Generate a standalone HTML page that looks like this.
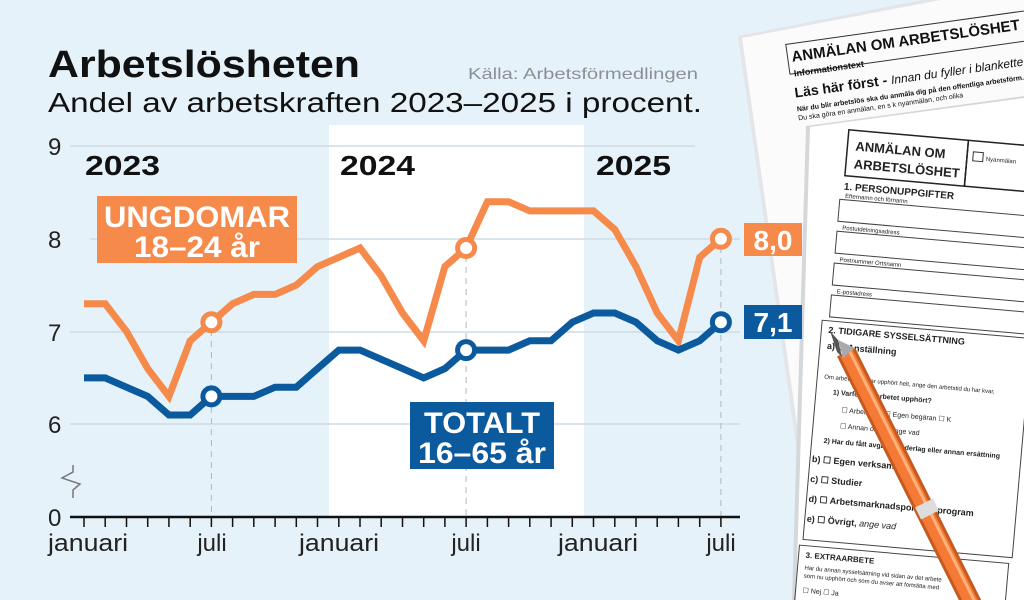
<!DOCTYPE html>
<html><head><meta charset="utf-8"><style>
html,body{margin:0;padding:0;width:1024px;height:600px;overflow:hidden;background:#e6f2f9}
svg{display:block}
text{font-family:"Liberation Sans",sans-serif}
</style></head><body>
<svg width="1024" height="600" viewBox="0 0 1024 600" xmlns="http://www.w3.org/2000/svg">
<rect width="1024" height="600" fill="#e6f2f9"/>
<rect x="329" y="125" width="255" height="392" fill="#ffffff"/>
<g stroke="#cfdbe3" stroke-width="1.5">
<line x1="70" y1="146" x2="695" y2="146"/>
<line x1="90" y1="239" x2="740" y2="239"/>
<line x1="70" y1="332" x2="740" y2="332"/>
<line x1="70" y1="424" x2="740" y2="424"/>
</g>
<g stroke="#b0b8bf" stroke-width="1" stroke-dasharray="6,5">
<line x1="211.4" y1="330" x2="211.4" y2="517"/>
<line x1="466.1" y1="256" x2="466.1" y2="517"/>
<line x1="720.9" y1="247" x2="720.9" y2="517"/>
</g>
<line x1="70" y1="517" x2="740" y2="517" stroke="#111" stroke-width="2.5"/>
<g stroke="#111" stroke-width="1.5">
<path d="M84 517v10M105.2 517v10M126.5 517v10M147.7 517v10M168.9 517v10M190.2 517v10M211.4 517v10M232.6 517v10M253.8 517v10M275.1 517v10M296.3 517v10M317.5 517v10M338.8 517v10M360 517v10M381.2 517v10M402.5 517v10M423.7 517v10M444.9 517v10M466.1 517v10M487.4 517v10M508.6 517v10M529.8 517v10M551.1 517v10M572.3 517v10M593.5 517v10M614.8 517v10M636 517v10M657.2 517v10M678.4 517v10M699.7 517v10M720.9 517v10"/>
</g>
<path d="M73 465 L73 472 L62 478 L80 484 L73 490 L73 498" fill="none" stroke="#777" stroke-width="1.5"/>
<g font-size="24" fill="#222">
<text x="48" y="155">9</text><text x="48" y="248">8</text><text x="48" y="341">7</text><text x="48" y="433">6</text><text x="48" y="526">0</text>
<text x="88" y="551" text-anchor="middle" textLength="80" lengthAdjust="spacingAndGlyphs">januari</text>
<text x="212" y="551" text-anchor="middle">juli</text>
<text x="339" y="551" text-anchor="middle" textLength="80" lengthAdjust="spacingAndGlyphs">januari</text>
<text x="466" y="551" text-anchor="middle">juli</text>
<text x="598" y="551" text-anchor="middle" textLength="80" lengthAdjust="spacingAndGlyphs">januari</text>
<text x="721" y="551" text-anchor="middle">juli</text>
</g>
<g font-size="28" font-weight="bold" fill="#111">
<text x="85" y="175" textLength="75" lengthAdjust="spacingAndGlyphs">2023</text><text x="340" y="175" textLength="75" lengthAdjust="spacingAndGlyphs">2024</text><text x="596" y="175" textLength="75" lengthAdjust="spacingAndGlyphs">2025</text>
</g>
<text x="48" y="77" font-size="38" font-weight="bold" fill="#111" textLength="312" lengthAdjust="spacingAndGlyphs">Arbetslösheten</text>
<text x="468" y="79" font-size="16" fill="#8a9095" textLength="230" lengthAdjust="spacingAndGlyphs">Källa: Arbetsförmedlingen</text>
<text x="48" y="112" font-size="28" fill="#111" textLength="654" lengthAdjust="spacingAndGlyphs">Andel av arbetskraften 2023–2025 i procent.</text>

<polyline fill="none" stroke="#f58a4b" stroke-width="7" points="84,303.7 105.2,303.7 126.5,331.5 147.7,368.6 168.9,396.4 190.2,340.8 211.4,322.2 232.6,303.7 253.8,294.4 275.1,294.4 296.3,285.1 317.5,266.6 338.8,257.3 360,248 381.2,275.9 402.5,313 423.7,340.8 444.9,266.6 466.1,248 487.4,201.7 508.6,201.7 529.8,210.9 551.1,210.9 572.3,210.9 593.5,210.9 614.8,229.5 636,266.6 657.2,313 678.4,340.8 699.7,257.3 720.9,238.8"/>
<polyline fill="none" stroke="#0b5a9e" stroke-width="7" points="84,377.9 105.2,377.9 126.5,387.2 147.7,396.4 168.9,415 190.2,415 211.4,396.4 232.6,396.4 253.8,396.4 275.1,387.2 296.3,387.2 317.5,368.6 338.8,350.1 360,350.1 381.2,359.3 402.5,368.6 423.7,377.9 444.9,368.6 466.1,350.1 487.4,350.1 508.6,350.1 529.8,340.8 551.1,340.8 572.3,322.2 593.5,313 614.8,313 636,322.2 657.2,340.8 678.4,350.1 699.7,340.8 720.9,322.2"/>
<g fill="#fff" stroke-width="5">
<circle cx="211.4" cy="322.2" r="8.5" stroke="#f58a4b"/>
<circle cx="466.1" cy="248" r="8.5" stroke="#f58a4b"/>
<circle cx="720.9" cy="238.8" r="8.5" stroke="#f58a4b"/>
<circle cx="211.4" cy="396.4" r="8.5" stroke="#0b5a9e"/>
<circle cx="466.1" cy="350.1" r="8.5" stroke="#0b5a9e"/>
<circle cx="720.9" cy="322.2" r="8.5" stroke="#0b5a9e"/>
</g>
<rect x="97" y="196" width="200" height="67" fill="#f58a4b"/>
<text x="197" y="227" font-size="30" font-weight="bold" fill="#fff" text-anchor="middle" textLength="186" lengthAdjust="spacingAndGlyphs">UNGDOMAR</text>
<text x="197" y="257" font-size="30" font-weight="bold" fill="#fff" text-anchor="middle" textLength="126" lengthAdjust="spacingAndGlyphs">18–24 år</text>
<rect x="410" y="402" width="144" height="67" fill="#0b5a9e"/>
<text x="482" y="433" font-size="30" font-weight="bold" fill="#fff" text-anchor="middle" textLength="116" lengthAdjust="spacingAndGlyphs">TOTALT</text>
<text x="482" y="463" font-size="30" font-weight="bold" fill="#fff" text-anchor="middle" textLength="128" lengthAdjust="spacingAndGlyphs">16–65 år</text>

<!-- papers -->
<polygon points="738,36 1024,-20 1024,600 818,600" fill="#e3e5e8"/>
<polygon points="742,38 1024,-16 1024,600 822,600" fill="#fbfbfb"/>
<g transform="rotate(-8 790 60)" fill="#111">
<rect x="788" y="44" width="260" height="30" fill="none" stroke="#333"/>
<text x="792" y="62" font-size="15" font-weight="bold">ANMÄLAN OM ARBETSLÖSHET</text>
<text x="792" y="77" font-size="9" font-weight="bold">Informationstext</text>
<text x="790" y="98" font-size="14" font-weight="bold">Läs här först - <tspan font-weight="normal" font-style="italic" font-size="12">Innan du fyller i blanketten</tspan></text>
<text x="790" y="112" font-size="7" font-weight="bold">När du blir arbetslös ska du anmäla dig på den offentliga arbetsförm.</text>
<text x="790" y="121" font-size="7">Du ska göra en anmälan, en s k nyanmälan, och olika</text>
</g>
<polygon points="806,126 1024,96 1024,600 792,600" fill="#d5d8db"/>
<polygon points="810,127 1024,98 1024,600 796,600" fill="#ffffff"/>
<g transform="rotate(5 850 140)" fill="#222">
<rect x="848" y="130" width="120" height="46" fill="none" stroke="#222" stroke-width="1.5"/>
<rect x="968" y="130" width="80" height="46" fill="none" stroke="#222" stroke-width="1.5"/>
<text x="856" y="150" font-size="13" font-weight="bold">ANMÄLAN OM</text>
<text x="856" y="168" font-size="13" font-weight="bold">ARBETSLÖSHET</text>
<rect x="974" y="141" width="10" height="9" fill="none" stroke="#333"/>
<text x="987" y="149" font-size="6">Nyanmälan</text>
<text x="848" y="190" font-size="10" font-weight="bold">1. PERSONUPPGIFTER</text>
<text x="850" y="198" font-size="6">Efternamn och förnamn</text>
<rect x="845" y="200" width="200" height="22" fill="none" stroke="#444"/>
<text x="850" y="230" font-size="6">Postutdelningsadress</text>
<rect x="845" y="232" width="200" height="22" fill="none" stroke="#444"/>
<text x="850" y="262" font-size="6">Postnummer       Ortsnamn</text>
<rect x="845" y="264" width="200" height="22" fill="none" stroke="#444"/>
<text x="850" y="294" font-size="6">E-postadress</text>
<rect x="845" y="296" width="200" height="22" fill="none" stroke="#444"/>
<rect x="838" y="322" width="210" height="220" fill="none" stroke="#444"/>
<text x="845" y="334" font-size="9" font-weight="bold">2. TIDIGARE SYSSELSÄTTNING</text>
<text x="845" y="350" font-size="9" font-weight="bold">a) ☐ Anställning</text>
<text x="845" y="380" font-size="6">Om arbetet inte har upphört helt, ange den arbetstid du har kvar,</text>
<text x="855" y="395" font-size="7" font-weight="bold">1) Varför har arbetet upphört?</text>
<text x="865" y="412" font-size="7">☐ Arbetsbrist   ☐ Egen begäran  ☐ K</text>
<text x="865" y="428" font-size="7">☐ Annan orsak, ange vad</text>
<text x="850" y="444" font-size="7" font-weight="bold">2) Har du fått avgångsvederlag eller annan ersättning</text>
<text x="840" y="464" font-size="9" font-weight="bold">b) ☐ Egen verksamhet</text>
<text x="840" y="484" font-size="9" font-weight="bold">c) ☐ Studier</text>
<text x="840" y="504" font-size="9" font-weight="bold">d) ☐ Arbetsmarknadspolitiskt program</text>
<text x="840" y="524" font-size="9" font-weight="bold">e) ☐ Övrigt, <tspan font-style="italic" font-weight="normal">ange vad</tspan></text>
<rect x="835" y="548" width="210" height="60" fill="none" stroke="#444"/>
<text x="842" y="560" font-size="8" font-weight="bold">3. EXTRAARBETE</text>
<text x="842" y="572" font-size="6">Har du annan sysselsättning vid sidan av det arbete</text>
<text x="842" y="580" font-size="6">som nu upphört och som du avser att fortsätta med</text>
<text x="842" y="595" font-size="7">☐ Nej   ☐ Ja</text>
</g>
<!-- pen -->
<g>
<line x1="846" y1="352" x2="975" y2="610" stroke="#c65a1e" stroke-width="20"/>
<line x1="846" y1="352" x2="975" y2="610" stroke="#f57a36" stroke-width="14"/>
<line x1="849" y1="350" x2="978" y2="608" stroke="#ffb27a" stroke-width="3"/>
<line x1="924" y1="503" x2="930" y2="515" stroke="#ddd" stroke-width="20"/>
<polygon points="838,340 855,348 843,358" fill="#aaa"/>
<polygon points="830,331 838,340 842,357 837,352" fill="#555"/>
</g>
<rect x="744" y="223" width="58" height="33" fill="#f58a4b"/>
<text x="773" y="250" font-size="28" font-weight="bold" fill="#fff" text-anchor="middle">8,0</text>
<rect x="744" y="305" width="58" height="34" fill="#0b5a9e"/>
<text x="773" y="332" font-size="28" font-weight="bold" fill="#fff" text-anchor="middle">7,1</text>
</svg>
</body></html>
